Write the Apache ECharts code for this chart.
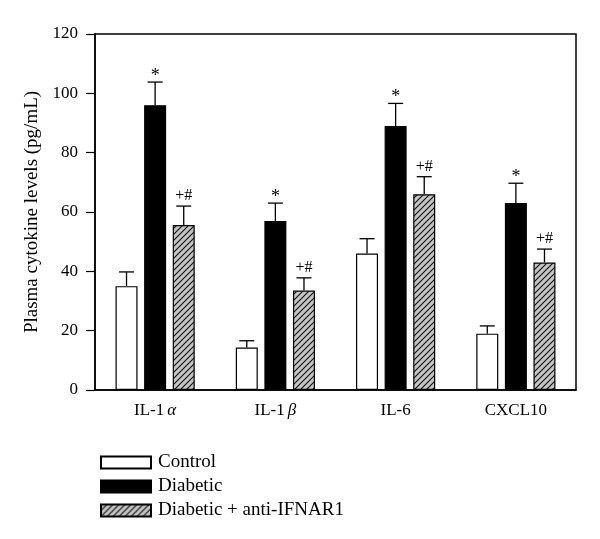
<!DOCTYPE html>
<html>
<head>
<meta charset="utf-8">
<script src="https://cdn.jsdelivr.net/npm/echarts@6/dist/echarts.min.js"></script>
<style>html,body{margin:0;padding:0;background:#fff;}#c{width:600px;height:539px;}</style>
</head>
<body>
<div id="c"></div>
<script>
const categories = ['IL-1{g|α}', 'IL-1{g|β}', 'IL-6', 'CXCL10'];
const seriesNames = ['Control', 'Diabetic', 'Diabetic + anti-IFNAR1'];
const control = [35, 14.3, 46, 19];
const controlErr = [4.8, 2.3, 5, 2.6];
const diabetic = [96, 57, 89, 63];
const diabeticErr = [7.8, 6, 7.6, 6.7];
const anti = [55.6, 33.5, 66, 43];
const antiErr = [6.4, 4.3, 5.9, 4.5];
const marks = ['', '*', '+#'];
const yTicks = [0, 20, 40, 60, 80, 100, 120];

const FONT = '"Liberation Serif", "DejaVu Serif", serif';
const BAR_W = 22;
const BAR_GAP = 0.3;

// hatch pattern
const pc = document.createElement('canvas');
pc.width = 6; pc.height = 6;
const px = pc.getContext('2d');
px.fillStyle = '#c4c4c4';
px.fillRect(0, 0, 6, 6);
px.strokeStyle = '#111';
px.lineWidth = 1.1;
px.beginPath();
px.moveTo(-1, 7); px.lineTo(7, -1);
px.moveTo(-1, 1); px.lineTo(1, -1);
px.moveTo(5, 7); px.lineTo(7, 5);
px.stroke();
const hatch = { image: pc, repeat: 'repeat' };

const values = [control, diabetic, anti];
const errs = [controlErr, diabeticErr, antiErr];
const fills = ['#ffffff', '#000000', hatch];

const errData = [];
values.forEach((arr, s) => arr.forEach((v, i) => errData.push([i, v, errs[s][i], s])));

const chart = echarts.init(document.getElementById('c'), null, { renderer: 'canvas' });

const barSeries = seriesNames.map((name, s) => ({
  name: name,
  type: 'bar',
  data: values[s],
  barWidth: BAR_W,
  barGap: (BAR_GAP * 100) + '%',
  itemStyle: { color: fills[s], borderColor: '#000', borderWidth: 1.2 },
  emphasis: { disabled: true },
  z: 2
}));

chart.setOption({
  animation: false,
  backgroundColor: '#fff',
  grid: { left: 95, right: 24, top: 34, bottom: 149, show: true, borderColor: '#000', borderWidth: 1.5, backgroundColor: 'transparent' },
  legend: {
    orient: 'vertical',
    left: 95,
    top: 448,
    itemWidth: 50,
    itemHeight: 12,
    itemGap: 5,
    icon: 'rect',
    data: seriesNames,
    textStyle: { fontFamily: FONT, fontSize: 19, color: '#000', padding: [0, 0, 0, 2] },
    selectedMode: false
  },
  xAxis: {
    type: 'category',
    data: categories,
    axisLine: { lineStyle: { color: '#000', width: 1.5 } },
    axisTick: { alignWithLabel: true, length: 6, lineStyle: { color: '#000', width: 1.2 } },
    axisLabel: {
      fontFamily: FONT, fontSize: 17, color: '#000', margin: 12,
      rich: { g: { fontFamily: FONT, fontSize: 17, fontStyle: 'italic', color: '#000', padding: [0, 0, 0, 3] } }
    },
    splitLine: { show: false }
  },
  yAxis: {
    type: 'value',
    min: 0, max: 120, interval: 20,
    name: 'Plasma cytokine levels (pg/mL)',
    nameLocation: 'middle',
    nameGap: 51,
    nameTextStyle: { fontFamily: FONT, fontSize: 19, color: '#000' },
    axisLine: { show: true, lineStyle: { color: '#000', width: 1.5 } },
    axisTick: { show: true, length: 9, lineStyle: { color: '#000', width: 1.2 } },
    axisLabel: { fontFamily: FONT, fontSize: 17, color: '#000', margin: 17,
      formatter: v => yTicks.includes(v) ? String(v) : '' },
    splitLine: { show: false }
  },
  series: barSeries.concat([{
    type: 'custom',
    data: errData,
    z: 5,
    silent: true,
    renderItem: function (params, api) {
      const cat = api.value(0), v = api.value(1), e = api.value(2), s = api.value(3);
      const off = (s - 1) * BAR_W * (1 + BAR_GAP);
      const x = api.coord([cat, 0])[0] + off;
      const y0 = api.coord([cat, v])[1];
      const y1 = api.coord([cat, v + e])[1];
      const style = { stroke: '#000', lineWidth: 1.3 };
      const children = [
        { type: 'line', shape: { x1: x, y1: y0, x2: x, y2: y1 }, style: style },
        { type: 'line', shape: { x1: x - 7.5, y1: y1, x2: x + 7.5, y2: y1 }, style: style }
      ];
      if (marks[s]) {
        children.push({ type: 'text', style: { text: marks[s], x: x, y: y1 + (s === 1 ? 3 : -2), align: 'center', verticalAlign: 'bottom', fontFamily: FONT, fontSize: s === 1 ? 18 : 16, fill: '#000' } });
      }
      return { type: 'group', children: children };
    }
  }])
});
</script>
</body>
</html>
